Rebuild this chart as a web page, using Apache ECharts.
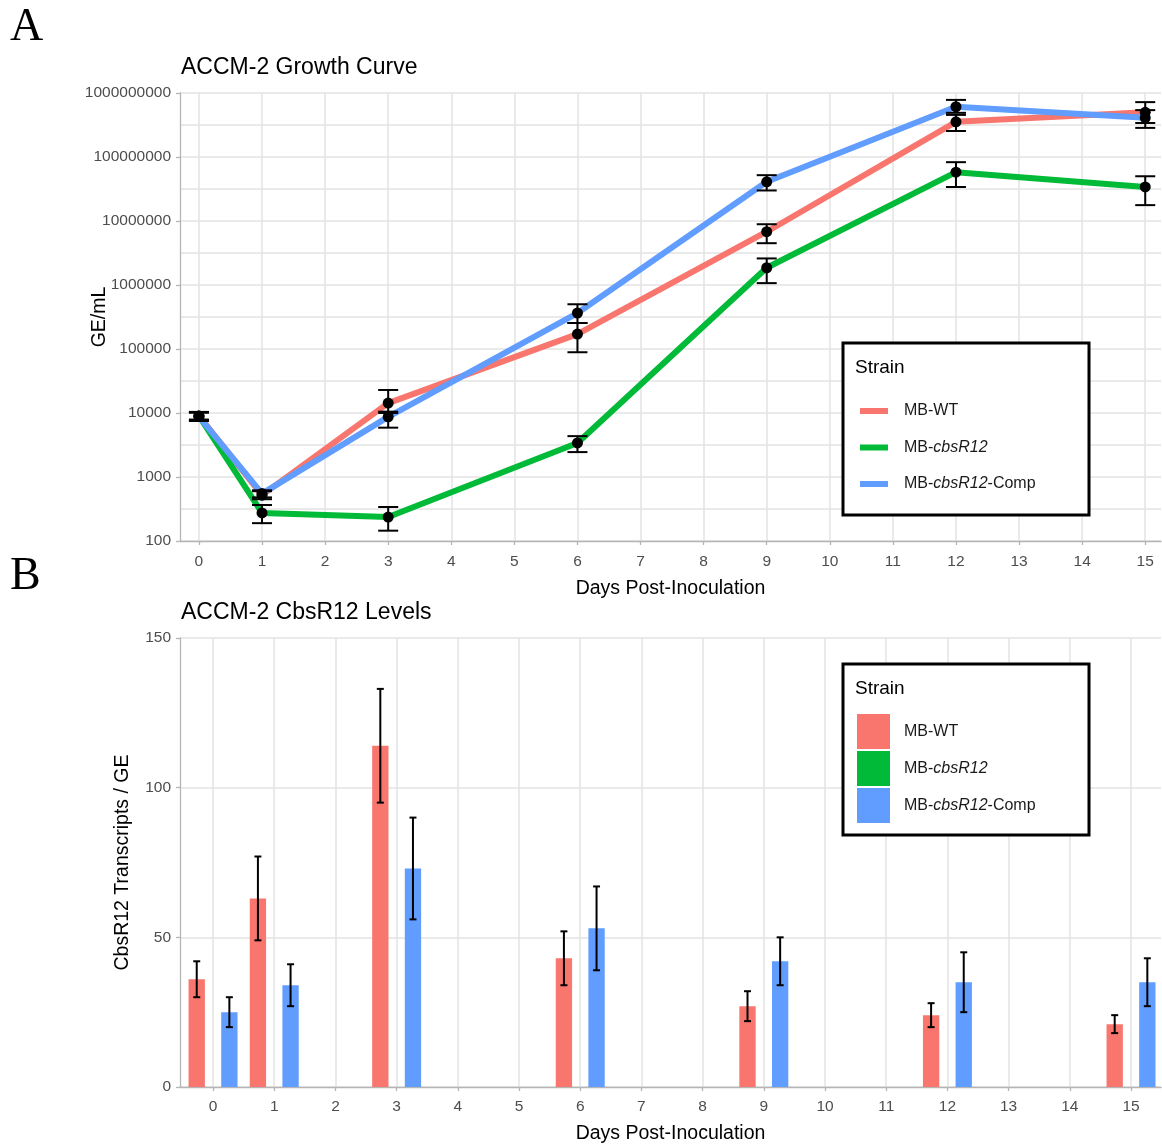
<!DOCTYPE html>
<html><head><meta charset="utf-8">
<script src="https://cdn.jsdelivr.net/npm/echarts@6/dist/echarts.min.js"></script>
<style>html,body{margin:0;padding:0;background:#fff}#c{width:1162px;height:1147px}</style>
</head><body><div id="c"></div>
<script>
// ---------- data ----------
const strains = ['MB-WT', 'MB-cbsR12', 'MB-cbsR12-Comp'];
const days = [0, 1, 3, 6, 9, 12, 15];
const xTicks = [0,1,2,3,4,5,6,7,8,9,10,11,12,13,14,15];
const yTicksA = [100, 1000, 10000, 100000, 1000000, 10000000, 100000000, 1000000000];
const yTicksB = [0, 50, 100, 150];

// Panel A: GE/mL (mean, lower, upper)
const wtMean   = [9000, 520, 14300, 171000, 6800000, 355000000, 500000000];
const wtLow    = [7900, 450, 10000, 89000, 4500000, 255000000, 340000000];
const wtHigh   = [10100, 600, 22900, 255000, 8900000, 455000000, 720000000];
const koMean   = [9000, 275, 237, 3400, 1860000, 58000000, 34000000];
const koLow    = [7700, 190, 145, 2450, 1070000, 34000000, 17700000];
const koHigh   = [10300, 365, 340, 4350, 2600000, 83000000, 50000000];
const compMean = [8800, 550, 8700, 365000, 41000000, 610000000, 410000000];
const compLow  = [7500, 480, 5900, 255000, 30000000, 490000000, 285000000];
const compHigh = [10400, 620, 10500, 500000, 52000000, 780000000, 540000000];

// Panel B: CbsR12 transcripts / GE (mean, error)
const wtLevel   = [36, 63, 114, 43, 27, 24, 21];
const wtErr     = [6, 14, 19, 9, 5, 4, 3];
const koLevel   = [];
const koErr     = [];
const compLevel = [25, 34, 73, 53, 42, 35, 35];
const compErr   = [5, 7, 17, 14, 8, 10, 8];

// ---------- styling ----------
const colors = ['#F8766D', '#00BA38', '#619CFF'];
const FONT = 'Liberation Sans, Arial, sans-serif';
const gridColor = '#e3e3e3';
const axisColor = '#b5b5b5';
const tickText = '#4d4d4d';

function zipLine(m) { return days.map((d, i) => [d, m[i]]); }
function zipErr(m, lo, hi) { return days.map((d, i) => [d, m[i], lo[i], hi[i]]); }
function zipBar(v, e) { return v.map((val, i) => [days[i], val, e[i]]); }

function errRenderA(params, api) {
  const x = api.value(0);
  const p = api.coord([x, api.value(1)]);
  const lo = api.coord([x, api.value(2)]);
  const hi = api.coord([x, api.value(3)]);
  const hw = 10;
  const st = { stroke: '#000', lineWidth: 2 };
  return { type: 'group', children: [
    { type: 'line', shape: { x1: p[0], y1: hi[1], x2: p[0], y2: lo[1] }, style: st },
    { type: 'line', shape: { x1: p[0] - hw, y1: hi[1], x2: p[0] + hw, y2: hi[1] }, style: st },
    { type: 'line', shape: { x1: p[0] - hw, y1: lo[1], x2: p[0] + hw, y2: lo[1] }, style: st },
    { type: 'circle', shape: { cx: p[0], cy: p[1], r: 5.5 }, style: { fill: '#000' } }
  ]};
}

const dodge = 0.8 / 3;
function barRender(offset, color) {
  return function (params, api) {
    const x = api.value(0) + offset;
    const v = api.value(1), e = api.value(2);
    const base = api.coord([x, 0]);
    const top = api.coord([x, v]);
    const w = api.size([dodge, 0])[0];
    const hi = api.coord([x, v + e]);
    const lo = api.coord([x, v - e]);
    const hw = 3.5;
    const st = { stroke: '#000', lineWidth: 2 };
    return { type: 'group', children: [
      { type: 'rect', shape: { x: base[0] - w / 2, y: top[1], width: w, height: base[1] - top[1] }, style: { fill: color } },
      { type: 'line', shape: { x1: top[0], y1: hi[1], x2: top[0], y2: lo[1] }, style: st },
      { type: 'line', shape: { x1: top[0] - hw, y1: hi[1], x2: top[0] + hw, y2: hi[1] }, style: st },
      { type: 'line', shape: { x1: top[0] - hw, y1: lo[1], x2: top[0] + hw, y2: lo[1] }, style: st }
    ]};
  };
}

function legendFmt(name) {
  if (name === 'MB-cbsR12') return '{n|MB-}{i|cbsR12}';
  if (name === 'MB-cbsR12-Comp') return '{n|MB-}{i|cbsR12}{n|-Comp}';
  return '{n|' + name + '}';
}
const legendRich = {
  n: { fontFamily: FONT, fontSize: 16, color: '#1a1a1a' },
  i: { fontFamily: FONT, fontSize: 16, color: '#1a1a1a', fontStyle: 'italic' }
};

const chart = echarts.init(document.getElementById('c'), null, { renderer: 'canvas' });

function xAxisCfg(gi, min, max, labelMargin, nameGap) {
  return {
    type: 'value', gridIndex: gi, min: min, max: max,
    name: 'Days Post-Inoculation', nameLocation: 'middle', nameGap: nameGap, nameMoveOverlap: false,
    nameTextStyle: { fontFamily: FONT, fontSize: 19.5, color: '#000' },
    axisLine: { show: true, onZero: false, lineStyle: { color: axisColor, width: 1.3 } },
    axisTick: { show: true, length: 4, customValues: xTicks, lineStyle: { color: axisColor, width: 1.3 } },
    axisLabel: { customValues: xTicks, margin: labelMargin, fontFamily: FONT, fontSize: 15.5, color: tickText },
    splitLine: { show: true, lineStyle: { color: gridColor, width: 1.5 } }
  };
}

const option = {
  animation: false,
  backgroundColor: '#fff',
  title: [
    { text: 'ACCM-2 Growth Curve', left: 181, top: 56, padding: 0,
      textStyle: { fontFamily: FONT, fontSize: 23, fontWeight: 'normal', color: '#000' } },
    { text: 'ACCM-2 CbsR12 Levels', left: 181, top: 601, padding: 0,
      textStyle: { fontFamily: FONT, fontSize: 23, fontWeight: 'normal', color: '#000' } }
  ],
  graphic: [
    { type: 'text', left: 10, top: 5, style: { text: 'A', font: '46px "Liberation Serif", serif', fill: '#000' } },
    { type: 'text', left: 10, top: 554, style: { text: 'B', font: '46px "Liberation Serif", serif', fill: '#000' } },
    { type: 'rect', z: 10, shape: { x: 843, y: 343, width: 246, height: 172 }, style: { fill: '#fff', stroke: '#000', lineWidth: 3 } },
    { type: 'text', z: 11, x: 855, y: 368, style: { text: 'Strain', font: '19px "Liberation Sans", Arial, sans-serif', fill: '#000', verticalAlign: 'middle' } },
    { type: 'rect', z: 10, shape: { x: 843, y: 664, width: 246, height: 171 }, style: { fill: '#fff', stroke: '#000', lineWidth: 3 } },
    { type: 'text', z: 11, x: 855, y: 689, style: { text: 'Strain', font: '19px "Liberation Sans", Arial, sans-serif', fill: '#000', verticalAlign: 'middle' } }
  ],
  legend: [
    { data: strains, orient: 'vertical', left: 860, top: 403, padding: 0, z: 20,
      icon: 'rect', itemWidth: 28, itemHeight: 6, itemGap: 20.5,
      formatter: legendFmt, textStyle: { padding: [0, 0, 0, 11], rich: legendRich } },
    { data: strains, orient: 'vertical', left: 857, top: 714, padding: 0, z: 20,
      icon: 'rect', itemWidth: 33, itemHeight: 35, itemGap: 2,
      formatter: legendFmt, textStyle: { padding: [0, 0, 0, 9], rich: legendRich } }
  ],
  grid: [
    { left: 180, top: 93, width: 981, height: 448 },
    { left: 180, top: 638, width: 981, height: 449 }
  ],
  xAxis: [
    xAxisCfg(0, -0.3, 15.25, 13, 38),
    xAxisCfg(1, -0.54, 15.49, 12, 37)
  ],
  yAxis: [
    { type: 'log', logBase: 10, gridIndex: 0, min: 100, max: 1000000000, splitNumber: 7,
      name: 'GE/mL', nameLocation: 'middle', nameGap: 70, nameMoveOverlap: false,
      nameTextStyle: { fontFamily: FONT, fontSize: 19.5, color: '#000' },
      axisLine: { show: true, onZero: false, lineStyle: { color: axisColor, width: 1.3 } },
      axisTick: { show: true, length: 4, lineStyle: { color: axisColor, width: 1.3 } },
      axisLabel: { margin: 9, fontFamily: FONT, fontSize: 15.5, color: tickText,
        formatter: v => String(Math.round(v)) },
      splitLine: { show: false } },
    { type: 'value', gridIndex: 0, min: 2, max: 9, interval: 0.5, position: 'right',
      axisLine: { show: false }, axisTick: { show: false }, axisLabel: { show: false },
      splitLine: { show: true, lineStyle: { color: gridColor, width: 1.5 } } },
    { type: 'value', gridIndex: 1, min: 0, max: 150, interval: 50,
      name: 'CbsR12 Transcripts / GE', nameLocation: 'middle', nameGap: 47, nameMoveOverlap: false,
      nameTextStyle: { fontFamily: FONT, fontSize: 19.5, color: '#000' },
      axisLine: { show: true, onZero: false, lineStyle: { color: axisColor, width: 1.3 } },
      axisTick: { show: true, length: 4, lineStyle: { color: axisColor, width: 1.3 } },
      axisLabel: { margin: 9, fontFamily: FONT, fontSize: 15.5, color: tickText },
      splitLine: { show: true, lineStyle: { color: gridColor, width: 1.5 } } }
  ],
  series: [
    { name: strains[0], type: 'line', xAxisIndex: 0, yAxisIndex: 0, data: zipLine(wtMean), symbol: 'none',
      lineStyle: { color: colors[0], width: 6 }, itemStyle: { color: colors[0] }, z: 2 },
    { name: strains[1], type: 'line', xAxisIndex: 0, yAxisIndex: 0, data: zipLine(koMean), symbol: 'none',
      lineStyle: { color: colors[1], width: 6 }, itemStyle: { color: colors[1] }, z: 2 },
    { name: strains[2], type: 'line', xAxisIndex: 0, yAxisIndex: 0, data: zipLine(compMean), symbol: 'none',
      lineStyle: { color: colors[2], width: 6 }, itemStyle: { color: colors[2] }, z: 2 },
    { name: 'errWT', type: 'custom', xAxisIndex: 0, yAxisIndex: 0, data: zipErr(wtMean, wtLow, wtHigh),
      encode: { x: 0, y: [1, 2, 3] }, renderItem: errRenderA, z: 5 },
    { name: 'errKO', type: 'custom', xAxisIndex: 0, yAxisIndex: 0, data: zipErr(koMean, koLow, koHigh),
      encode: { x: 0, y: [1, 2, 3] }, renderItem: errRenderA, z: 5 },
    { name: 'errComp', type: 'custom', xAxisIndex: 0, yAxisIndex: 0, data: zipErr(compMean, compLow, compHigh),
      encode: { x: 0, y: [1, 2, 3] }, renderItem: errRenderA, z: 5 },
    { name: strains[0], type: 'custom', xAxisIndex: 1, yAxisIndex: 2, data: zipBar(wtLevel, wtErr),
      encode: { x: 0, y: 1 }, itemStyle: { color: colors[0] }, renderItem: barRender(-dodge, colors[0]), z: 3 },
    { name: strains[1], type: 'custom', xAxisIndex: 1, yAxisIndex: 2, data: zipBar(koLevel, koErr),
      encode: { x: 0, y: 1 }, itemStyle: { color: colors[1] }, renderItem: barRender(0, colors[1]), z: 3 },
    { name: strains[2], type: 'custom', xAxisIndex: 1, yAxisIndex: 2, data: zipBar(compLevel, compErr),
      encode: { x: 0, y: 1 }, itemStyle: { color: colors[2] }, renderItem: barRender(dodge, colors[2]), z: 3 }
  ]
};
chart.setOption(option);
</script>
</body></html>
